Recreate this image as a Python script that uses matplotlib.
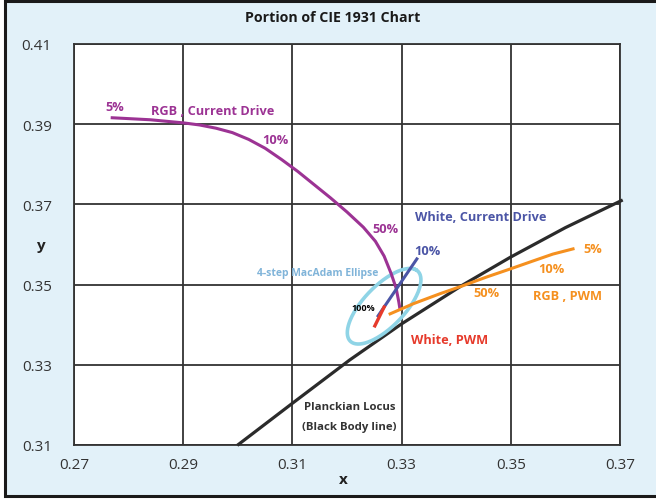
import numpy as np
import matplotlib
matplotlib.use("Agg")
import matplotlib.pyplot as plt
from matplotlib.patches import Rectangle

# ---- chromaticity traces (CIE 1931 x, y) ----
rgb_current_x = [0.2770, 0.2840, 0.2902, 0.2930, 0.2960, 0.2990, 0.3020, 0.3050, 0.3080, 0.3110,
                 0.3140, 0.3170, 0.3200, 0.3230, 0.3252, 0.3268, 0.3281, 0.3290, 0.3295, 0.3297]
rgb_current_y = [0.3916, 0.3911, 0.3903, 0.3898, 0.3890, 0.3879, 0.3862, 0.3840, 0.3812, 0.3782,
                 0.3749, 0.3716, 0.3681, 0.3643, 0.3608, 0.3571, 0.3527, 0.3491, 0.3456, 0.3439]

white_current_x = [0.3257, 0.3328]
white_current_y = [0.3422, 0.3564]

rgb_pwm_x = [0.3279, 0.3321, 0.3370, 0.3412, 0.3456, 0.3499, 0.3541, 0.3577, 0.3614]
rgb_pwm_y = [0.3427, 0.3452, 0.3477, 0.3497, 0.3519, 0.3539, 0.3559, 0.3576, 0.3589]

white_pwm_x = [0.3251, 0.3268]
white_pwm_y = [0.3397, 0.3444]

planck_x = [0.2999, 0.3101, 0.3205, 0.3300, 0.3412, 0.3499, 0.3600, 0.3705]
planck_y = [0.3099, 0.3205, 0.3312, 0.3402, 0.3499, 0.3568, 0.3642, 0.3711]

# 4-step MacAdam ellipse: centre, semi-axes and tilt (data units, degrees)
ellipse_center = (0.3268, 0.3446)
ellipse_a = 0.0108
ellipse_b = 0.0042
ellipse_theta = 58.0

x_ticks = [0.27, 0.29, 0.31, 0.33, 0.35, 0.37]
y_ticks = [0.31, 0.33, 0.35, 0.37, 0.39, 0.41]

BG = "#e2f1f9"
PURPLE = "#9c3394"
BLUE = "#4b55a6"
ORANGE = "#f5901f"
RED = "#e63a2b"
CYAN = "#8fd4e6"
CYAN_TXT = "#80b4d9"
DARK = "#2b2b2b"

plt.rcParams["font.family"] = ["Open Sans", "DejaVu Sans"]

fig = plt.figure(figsize=(6.56, 5.02), dpi=100, facecolor="white")
fig.patches.append(Rectangle((0.0076, 0.010), 1.05, 0.986, transform=fig.transFigure,
                             facecolor=BG, edgecolor="#1a1a1a", linewidth=2.2, zorder=-10))

ax = fig.add_axes([0.1128, 0.1116, 0.8323, 0.7988])
ax.set_facecolor("white")
ax.set_xlim(x_ticks[0], x_ticks[-1])
ax.set_ylim(y_ticks[0], y_ticks[-1])
ax.set_xticks(x_ticks)
ax.set_yticks(y_ticks)
ax.set_xticklabels([f"{v:.2f}" for v in x_ticks])
ax.set_yticklabels([f"{v:.2f}" for v in y_ticks])
ax.tick_params(length=0, labelsize=11, colors="#333333")
ax.tick_params(axis="y", pad=16)
ax.tick_params(axis="x", pad=9)
ax.grid(True, color="#333333", linewidth=1.3)
for s in ax.spines.values():
    s.set_color("#333333")
    s.set_linewidth(1.3)
ax.set_axisbelow(True)

# traces
ax.plot(planck_x, planck_y, color=DARK, lw=2.3, solid_capstyle="butt", clip_on=False, zorder=3)

t = np.linspace(0, 2 * np.pi, 300)
th = np.deg2rad(ellipse_theta)
ex = ellipse_center[0] + ellipse_a * np.cos(t) * np.cos(th) - ellipse_b * np.sin(t) * np.sin(th)
ey = ellipse_center[1] + ellipse_a * np.cos(t) * np.sin(th) + ellipse_b * np.sin(t) * np.cos(th)
ax.plot(ex, ey, color=CYAN, lw=2.6, zorder=3)

ax.plot(rgb_current_x, rgb_current_y, color=PURPLE, lw=2.2, zorder=4)
ax.plot(white_current_x, white_current_y, color=BLUE, lw=2.2, zorder=5)
ax.plot(rgb_pwm_x, rgb_pwm_y, color=ORANGE, lw=2.2, zorder=4)
ax.plot(white_pwm_x, white_pwm_y, color=RED, lw=2.4, zorder=5)

lab = dict(fontsize=9.2, fontweight="bold", ha="center", va="center", zorder=6)
ax.text(0.2775, 0.3945, "5%", color=PURPLE, **lab)
ax.text(0.2953, 0.3933, "RGB , Current Drive", color=PURPLE, **lab)
ax.text(0.3068, 0.3863, "10%", color=PURPLE, **lab)
ax.text(0.3271, 0.3641, "50%", color=PURPLE, **lab)

ax.text(0.3445, 0.3669, "White, Current Drive", color=BLUE, **lab)
ax.text(0.3347, 0.3584, "10%", color=BLUE, **lab)

ax.text(0.3651, 0.3589, "5%", color=ORANGE, **lab)
ax.text(0.3574, 0.3541, "10%", color=ORANGE, **lab)
ax.text(0.3456, 0.3479, "50%", color=ORANGE, **lab)
ax.text(0.3603, 0.3472, "RGB , PWM", color=ORANGE, **lab)

ax.text(0.3387, 0.3362, "White, PWM", color=RED, **lab)
ax.text(0.3229, 0.3442, "100%", color="black", fontsize=6.5, fontweight="bold",
        ha="center", va="center", zorder=6)
ax.text(0.3147, 0.3531, "4-step MacAdam Ellipse", color=CYAN_TXT, fontsize=7.5,
        fontweight="bold", ha="center", va="center", zorder=6)

ax.text(0.3205, 0.3195, "Planckian Locus", color="#333333", fontsize=8.2,
        fontweight="bold", ha="center", va="center", zorder=6)
ax.text(0.3205, 0.3147, "(Black Body line)", color="#333333", fontsize=8.2,
        fontweight="bold", ha="center", va="center", zorder=6)

fig.text(333 / 656, 1 - 18 / 502, "Portion of CIE 1931 Chart", ha="center", va="center",
         fontsize=10.2, fontweight="bold", color="#1a1a1a")
fig.text(40 / 656, 1 - 246 / 502, "y", ha="center", va="center",
         fontsize=11, fontweight="bold", color="#222222")
fig.text(343 / 656, 1 - 480 / 502, "x", ha="center", va="center",
         fontsize=11, fontweight="bold", color="#222222")

fig.savefig("out.png", dpi=100, facecolor=fig.get_facecolor())
